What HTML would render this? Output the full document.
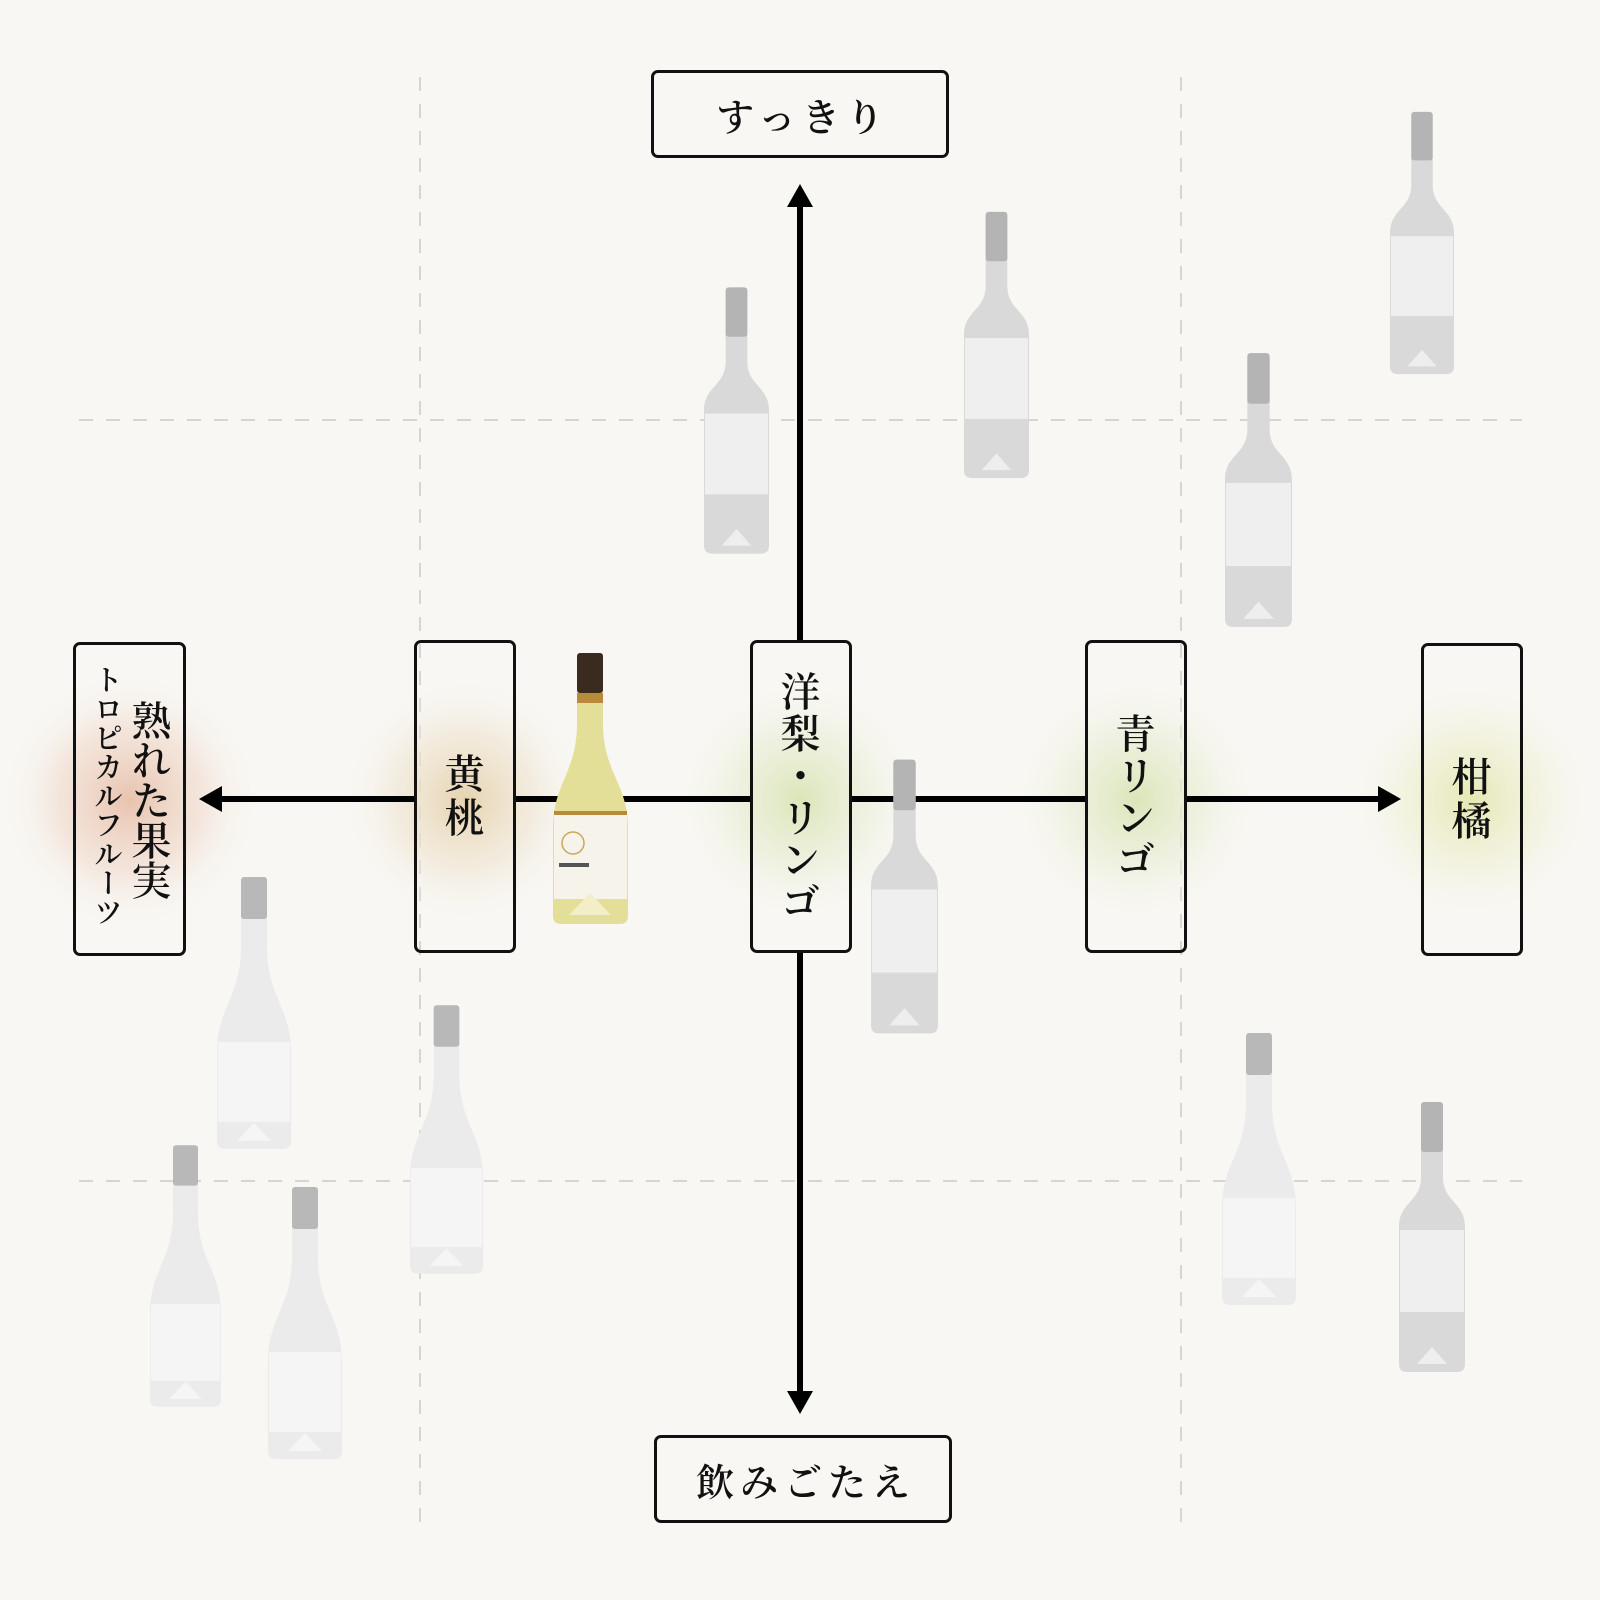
<!DOCTYPE html>
<html><head><meta charset="utf-8">
<style>
html,body{margin:0;padding:0;background:#f8f7f3;}
#c{position:relative;width:1600px;height:1600px;overflow:hidden;background:#f8f7f3;font-family:"Liberation Serif","Noto Serif CJK JP","Noto Serif CJK SC",serif;color:#111;font-weight:600;}
svg{position:absolute;left:0;top:0;}
.b{position:absolute;box-sizing:border-box;border:3px solid #111;border-radius:7px;display:flex;align-items:center;justify-content:center;}
.h{font-size:38px;letter-spacing:6px;padding-left:6px;}
.vt{writing-mode:vertical-rl;font-size:40px;line-height:1;letter-spacing:4px;display:block;margin-left:-8px;}
</style></head><body><div id="c">
<svg width="1600" height="1600" viewBox="0 0 1600 1600">
<defs>
<radialGradient id="gr"><stop offset="0" stop-color="#e8c3ae" stop-opacity="1"/><stop offset="0.55" stop-color="#f0d9cb" stop-opacity="0.6"/><stop offset="1" stop-color="#f8f7f3" stop-opacity="0"/></radialGradient>
<radialGradient id="gt"><stop offset="0" stop-color="#e6d3b0" stop-opacity="1"/><stop offset="0.55" stop-color="#efe4d0" stop-opacity="0.6"/><stop offset="1" stop-color="#f8f7f3" stop-opacity="0"/></radialGradient>
<radialGradient id="gg"><stop offset="0" stop-color="#dbe5b8" stop-opacity="1"/><stop offset="0.55" stop-color="#e9eed6" stop-opacity="0.6"/><stop offset="1" stop-color="#f8f7f3" stop-opacity="0"/></radialGradient>
<radialGradient id="gy"><stop offset="0" stop-color="#e6e8b3" stop-opacity="1"/><stop offset="0.55" stop-color="#eff0d5" stop-opacity="0.6"/><stop offset="1" stop-color="#f8f7f3" stop-opacity="0"/></radialGradient>
<symbol id="bd" viewBox="0 0 70 270">
<path d="M24,4 Q24,0 28,0 L42,0 Q46,0 46,4 L46,75 C46,100 68,100 68,125 L68,262 Q68,270 60,270 L10,270 Q2,270 2,262 L2,125 C2,100 24,100 24,75 Z" fill="#d9d9d9"/>
<rect x="24" y="0" width="22" height="50" rx="3" fill="#b4b4b4"/>
<rect x="3" y="128" width="64" height="82" fill="#efefef"/>
<path d="M20,262 L35,245 L50,262 Z" fill="#eeeeee"/>
</symbol>
<symbol id="bg" viewBox="0 0 78 272">
<path d="M26,4 Q26,0 30,0 L48,0 Q52,0 52,4 L52,70 C52,120 76,130 76,175 L76,264 Q76,272 68,272 L10,272 Q2,272 2,264 L2,175 C2,130 26,120 26,70 Z" fill="#ebebeb"/>
<rect x="26" y="0" width="26" height="42" rx="3" fill="#b8b8b8"/>
<rect x="3" y="165" width="72" height="80" fill="#f5f5f5"/>
<path d="M22,264 L39,246 L56,264 Z" fill="#f5f5f5"/>
</symbol>
</defs>
<g stroke="#d6d5d0" stroke-width="2" stroke-dasharray="14 13">
<line x1="79" y1="420" x2="1522" y2="420"/>
<line x1="79" y1="1181" x2="1522" y2="1181"/>
<line x1="420" y1="77" x2="420" y2="1522"/>
<line x1="1181" y1="77" x2="1181" y2="1522"/>
</g>
<ellipse cx="130" cy="800" rx="130" ry="130" fill="url(#gr)"/>
<ellipse cx="465" cy="800" rx="125" ry="125" fill="url(#gt)"/>
<ellipse cx="800" cy="800" rx="125" ry="125" fill="url(#gg)"/>
<ellipse cx="1136" cy="800" rx="125" ry="125" fill="url(#gg)"/>
<ellipse cx="1472" cy="800" rx="125" ry="125" fill="url(#gy)"/>
<g stroke="#000" stroke-width="6">
<line x1="215" y1="799" x2="415" y2="799"/>
<line x1="515" y1="799" x2="751" y2="799"/>
<line x1="851" y1="799" x2="1086" y2="799"/>
<line x1="1186" y1="799" x2="1385" y2="799"/>
<line x1="800" y1="200" x2="800" y2="641"/>
<line x1="800" y1="952" x2="800" y2="1398"/>
</g>
<polygon points="199,799 222,786 222,812" fill="#000"/>
<polygon points="1401,799 1378,786 1378,812" fill="#000"/>
<polygon points="800,184 787,207 813,207" fill="#000"/>
<polygon points="800,1414 787,1391 813,1391" fill="#000"/>
<use href="#bd" x="702" y="284" width="69" height="273"/>
<use href="#bd" x="962" y="208" width="69" height="274"/>
<use href="#bd" x="1388" y="106" width="68" height="274"/>
<use href="#bd" x="1223" y="353" width="71" height="274"/>
<use href="#bd" x="869" y="759" width="71" height="275"/>
<use href="#bd" x="1397" y="1100" width="70" height="274"/>
<use href="#bg" x="215" y="877" width="78" height="272"/>
<use href="#bg" x="408" y="1003" width="77" height="273"/>
<use href="#bg" x="148" y="1140" width="75" height="272"/>
<use href="#bg" x="266" y="1187" width="78" height="272"/>
<use href="#bg" x="1220" y="1033" width="78" height="272"/>
<g transform="translate(551,653)">
<path d="M26,4 Q26,0 30,0 L48,0 Q52,0 52,4 L52,70 C52,120 77,130 77,175 L77,263 Q77,271 69,271 L10,271 Q2,271 2,263 L2,175 C2,130 26,120 26,70 Z" fill="#e3df98"/>
<rect x="26" y="0" width="26" height="40" rx="3" fill="#3a2a20"/>
<rect x="26" y="40" width="26" height="10" fill="#b98a3a"/>
<rect x="3" y="158" width="73" height="4" fill="#b98a3a"/>
<rect x="3" y="162" width="73" height="84" fill="#f5f3ea"/>
<circle cx="22" cy="190" r="11" fill="none" stroke="#c9a85a" stroke-width="1.5"/>
<rect x="8" y="210" width="30" height="4" fill="#555"/>
<path d="M18,262 L39,240 L60,262 Z" fill="#f2efc8"/>
</g>
</svg>
<div class="b h" style="left:651px;top:70px;width:298px;height:88px;">すっきり</div>
<div class="b h" style="left:654px;top:1435px;width:298px;height:88px;">飲みごたえ</div>
<div class="b" style="left:73px;top:642px;width:113px;height:314px;flex-direction:row-reverse;align-items:flex-start;justify-content:center;gap:8px;">
<span class="vt" style="font-size:40px;letter-spacing:0;margin-top:55px;margin-left:0;">熟れた果実</span>
<span class="vt" style="font-size:29px;letter-spacing:0;margin-top:20px;margin-left:0;">トロピカルフルーツ</span>
</div>
<div class="b" style="left:414px;top:640px;width:102px;height:313px;"><span class="vt">黄桃</span></div>
<div class="b" style="left:750px;top:640px;width:102px;height:313px;"><span class="vt" style="letter-spacing:2px;">洋梨・リンゴ</span></div>
<div class="b" style="left:1085px;top:640px;width:102px;height:313px;"><span class="vt" style="letter-spacing:2px;">青リンゴ</span></div>
<div class="b" style="left:1421px;top:643px;width:102px;height:313px;"><span class="vt">柑橘</span></div>
</div></body></html>
